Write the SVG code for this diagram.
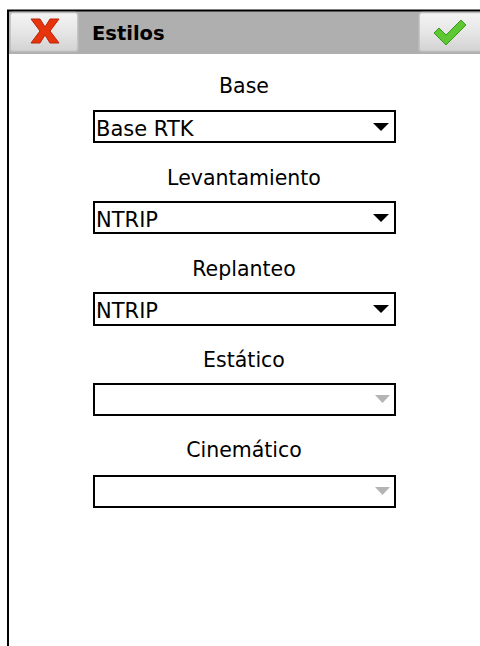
<svg xmlns="http://www.w3.org/2000/svg" width="480" height="646" viewBox="0 0 480 646">
  <defs>
    <linearGradient id="btn" x1="0" y1="0" x2="0" y2="1">
      <stop offset="0" stop-color="#f4f4f4"/>
      <stop offset="0.5" stop-color="#e6e6e6"/>
      <stop offset="1" stop-color="#d2d2d2"/>
    </linearGradient>
    <style>
      .lbl { font-family: "DejaVu Sans", Verdana, sans-serif; font-size: 20.5px; fill: #000; text-anchor: middle; }
      .val { font-family: "DejaVu Sans", Verdana, sans-serif; font-size: 21px; fill: #000; }
      .box { fill: #fff; stroke: #000; stroke-width: 2; }
      .arr { fill: #000; }
      .arr-dis { fill: #b4b4b4; }
      .btn { fill: url(#btn); stroke: #bcbcbc; stroke-width: 1.5; }
    </style>
  </defs>
  <rect x="0" y="0" width="480" height="646" fill="#fff"/>

  <!-- header bar -->
  <g id="header">
    <rect x="8" y="11" width="472" height="43" fill="#afafaf"/>
    <line x1="7" y1="10.5" x2="480" y2="10.5" stroke="#000" stroke-width="2"/>
    <line x1="8" y1="10" x2="8" y2="646" stroke="#000" stroke-width="2"/>
    <text x="92" y="40" font-family="'DejaVu Sans', Verdana, sans-serif" font-weight="bold" font-size="19.5" fill="#000">Estilos</text>
  </g>

  <g id="cancel-button">
    <rect class="btn" x="10" y="12.5" width="68" height="39" rx="3"/>
    <path d="M31,19 L40,19 L45,27 L50,19 L59,19 L50,31 L59,43 L50,43 L45,35 L40,43 L31,43 L40,31 Z" fill="#e8340c" stroke="#b82408" stroke-width="1"/>
  </g>

  <g id="ok-button">
    <rect class="btn" x="419" y="12.5" width="66" height="39" rx="3"/>
    <path d="M434,33 L439,28 L446,35 L461,20 L466,25 L446,45 Z" fill="#5ec832" stroke="#3a9a1e" stroke-width="1"/>
  </g>

  <g id="base">
    <text class="lbl" x="244" y="93">Base</text>
    <rect class="box" x="94" y="111" width="301" height="31"/>
    <text class="val" x="96" y="136">Base RTK</text>
    <path class="arr" d="M373,123 L389,123 L381,131 Z"/>
  </g>

  <g id="levantamiento">
    <text class="lbl" x="244" y="185">Levantamiento</text>
    <rect class="box" x="94" y="202" width="301" height="31"/>
    <text class="val" x="96" y="227">NTRIP</text>
    <path class="arr" d="M373,214 L389,214 L381,222 Z"/>
  </g>

  <g id="replanteo">
    <text class="lbl" x="244" y="276">Replanteo</text>
    <rect class="box" x="94" y="293" width="301" height="32"/>
    <text class="val" x="96" y="318">NTRIP</text>
    <path class="arr" d="M373,305 L389,305 L381,313 Z"/>
  </g>

  <g id="estatico">
    <text class="lbl" x="244" y="367">Estático</text>
    <rect class="box" x="94" y="384" width="301" height="31"/>
    <path class="arr-dis" d="M375,395 L390,395 L382.5,403 Z"/>
  </g>

  <g id="cinematico">
    <text class="lbl" x="244" y="457">Cinemático</text>
    <rect class="box" x="94" y="476" width="301" height="31"/>
    <path class="arr-dis" d="M375,487 L390,487 L382.5,495 Z"/>
  </g>

  <g id="connectors"></g>
</svg>
